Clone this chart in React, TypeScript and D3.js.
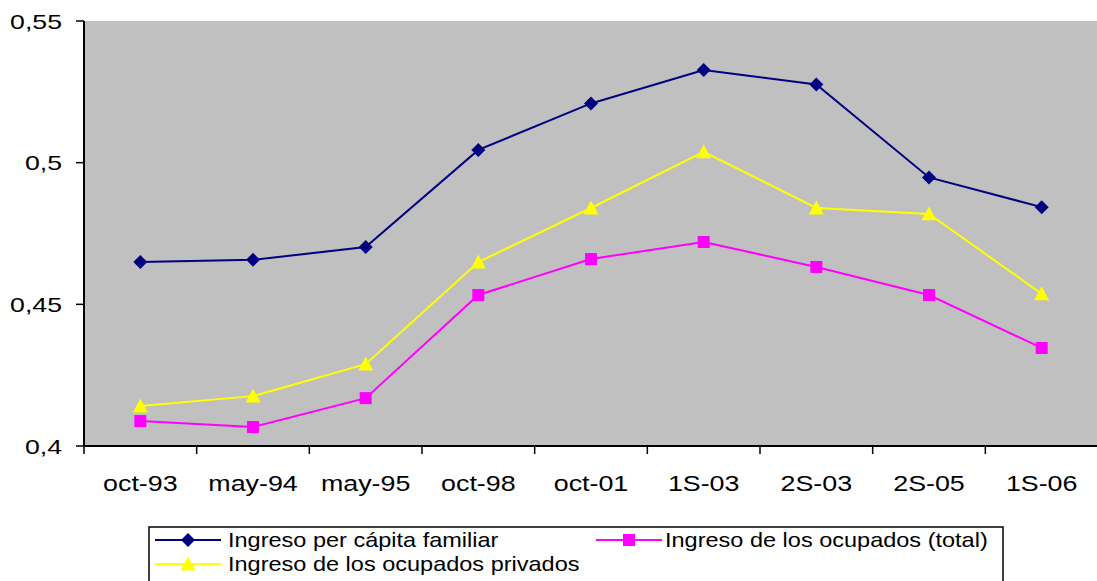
import React from "react";
import * as d3 from "d3";

const categories = ["oct-93", "may-94", "may-95", "oct-98", "oct-01", "1S-03", "2S-03", "2S-05", "1S-06"];
const perCapita = [0.4649, 0.4657, 0.4702, 0.5045, 0.5209, 0.5327, 0.5276, 0.4948, 0.4843];
const ocupadosTotal = [0.4088, 0.4067, 0.4169, 0.4533, 0.4660, 0.4720, 0.4632, 0.4533, 0.4346];
const ocupadosPrivados = [0.4141, 0.4176, 0.4289, 0.4649, 0.4840, 0.5038, 0.4840, 0.4819, 0.4537];
const yTicks = [0.4, 0.45, 0.5, 0.55];
const yTickLabels = ["0,4", "0,45", "0,5", "0,55"];

const series = [
  { name: "Ingreso per cápita familiar", values: perCapita, color: "#000080", marker: "diamond" },
  { name: "Ingreso de los ocupados (total)", values: ocupadosTotal, color: "#FF00FF", marker: "square" },
  { name: "Ingreso de los ocupados privados", values: ocupadosPrivados, color: "#FFFF00", marker: "triangle" },
];

const W = 1097, H = 581;
const M = { left: 84, top: 21, right: 1098, bottom: 446 };

function Marker({ type, x, y, color }: { type: string; x: number; y: number; color: string }) {
  if (type === "diamond") {
    const s = 7;
    return <path d={`M${x},${y - s}L${x + s},${y}L${x},${y + s}L${x - s},${y}Z`} fill={color} />;
  }
  if (type === "square") {
    const s = 6;
    return <rect x={x - s} y={y - s} width={2 * s} height={2 * s} fill={color} />;
  }
  const s = 7.5;
  return <path d={`M${x},${y - s}L${x + s},${y + s * 0.85}L${x - s},${y + s * 0.85}Z`} fill={color} />;
}

export default function App() {
  const x = d3.scaleBand().domain(categories).range([M.left, M.right]);
  const y = d3.scaleLinear().domain([0.4, 0.55]).range([M.bottom, M.top]);
  const line = d3.line<number>().x((_, i) => (x(categories[i]) as number) + x.bandwidth() / 2).y((d) => y(d));
  const font = "'Liberation Sans', Arial, sans-serif";
  const boundaries = categories.map((c) => x(c) as number).concat([M.right]);

  const legendItems = [
    { s: series[0], lx: 155, ly: 540, tx: 228 },
    { s: series[1], lx: 596, ly: 540, tx: 665 },
    { s: series[2], lx: 155, ly: 564, tx: 228 },
  ];

  return (
    <svg width={W} height={H} style={{ position: "absolute", left: 0, top: 0, background: "#fff" }}>
      <rect x={M.left} y={M.top} width={M.right - M.left} height={M.bottom - M.top} fill="#C0C0C0" />
      <line x1={M.left} x2={M.left} y1={M.top} y2={M.bottom} stroke="#000" strokeWidth={2} />
      <line x1={M.left} x2={M.right} y1={M.bottom} y2={M.bottom} stroke="#000" strokeWidth={2} />
      {yTicks.map((t, i) => (
        <g key={t}>
          <line x1={M.left - 8} x2={M.left} y1={y(t)} y2={y(t)} stroke="#000" strokeWidth={1.5} />
          <text transform={`translate(62,${y(t) + 7.5}) scale(1.27,1)`} textAnchor="end" fontFamily={font} fontSize={21} fill="#000">
            {yTickLabels[i]}
          </text>
        </g>
      ))}
      {boundaries.map((b, i) => (
        <line key={i} x1={b} x2={b} y1={M.bottom} y2={M.bottom + 8} stroke="#000" strokeWidth={1.5} />
      ))}
      {categories.map((c) => (
        <text key={c} transform={`translate(${(x(c) as number) + x.bandwidth() / 2},491) scale(1.22,1)`} textAnchor="middle" fontFamily={font} fontSize={22} fill="#000">
          {c}
        </text>
      ))}
      {series.map((s) => (
        <g key={s.name}>
          <path d={line(s.values) as string} fill="none" stroke={s.color} strokeWidth={2} />
          {s.values.map((v, i) => (
            <Marker key={i} type={s.marker} x={(x(categories[i]) as number) + x.bandwidth() / 2} y={y(v)} color={s.color} />
          ))}
        </g>
      ))}
      <rect x={149} y={527} width={854} height={60} fill="#fff" stroke="#000" strokeWidth={1.5} />
      {legendItems.map(({ s, lx, ly, tx }) => (
        <g key={s.name}>
          <line x1={lx} x2={lx + 66} y1={ly} y2={ly} stroke={s.color} strokeWidth={2} />
          <Marker type={s.marker} x={lx + 33} y={ly} color={s.color} />
          <text transform={`translate(${tx},${ly + 6.5}) scale(1.12,1)`} fontFamily={font} fontSize={21} fill="#000">
            {s.name}
          </text>
        </g>
      ))}
    </svg>
  );
}
